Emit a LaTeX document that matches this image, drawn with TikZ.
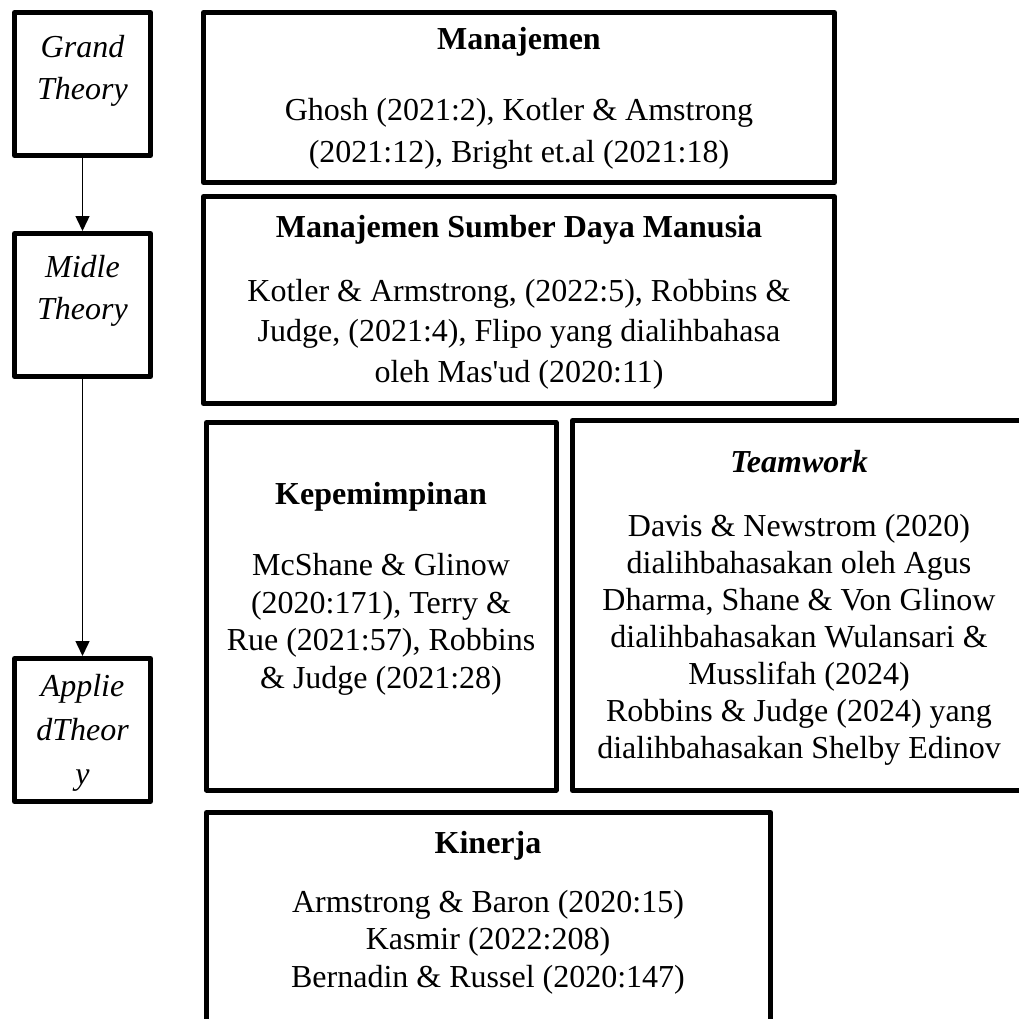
\documentclass[tikz,border=0pt]{standalone}
\usepackage{fontspec}
\setmainfont{Liberation Serif}[Ligatures=TeXOff]
\usetikzlibrary{arrows.meta}
\begin{document}
\begin{tikzpicture}[x=1pt,y=-1pt,
  box/.style={draw, line width=5pt, inner sep=0pt, line join=round},
  txt/.style={inner sep=0pt, font=\fontsize{32}{38}\selectfont, text height=21pt, text depth=6.4pt},
  ttl/.style={txt, font=\fontsize{32}{38}\selectfont\bfseries},
  itl/.style={txt, font=\fontsize{32}{38}\selectfont\itshape},
  arr/.style={-{Triangle[width=14pt,length=15pt]}, line width=1.5pt}]
\useasboundingbox (0,0) rectangle (1019,1019);

% left column boxes
\node[box, minimum width=136pt, minimum height=143pt] (G) at (82.5,84) {};
\node[box, minimum width=136pt, minimum height=143pt] (M) at (82.5,305) {};
\node[box, minimum width=136pt, minimum height=143pt] (A) at (82.5,730) {};
\node[itl] (g1) at (82.5,50) {Grand};
\node[itl] (g2) at (82.5,92) {Theory};
\node[itl] (m1) at (82.5,270) {Midle};
\node[itl] (m2) at (82.5,312) {Theory};
\node[itl] (a1) at (82.5,689) {Applie};
\node[itl] (a2) at (82.5,733) {dTheor};
\node[itl] (a3) at (82.5,777) {y};
\draw[arr] (G) -- (M);
\draw[arr] (M) -- (A);

% Manajemen
\node[box, minimum width=631pt, minimum height=170pt] (MJ) at (519,97.5) {};
\node[ttl] (mj0) at (519,42) {Manajemen};
\node[txt] (mj1) at (519,113) {Ghosh (2021:2), Kotler \& Amstrong};
\node[txt] (mj2) at (519,155) {(2021:12), Bright et.al (2021:18)};

% MSDM
\node[box, minimum width=631pt, minimum height=207pt] (SDM) at (519,300) {};
\node[ttl] (s0) at (519,230) {Manajemen Sumber Daya Manusia};
\node[txt] (s1) at (519,294) {Kotler \& Armstrong, (2022:5), Robbins \&};
\node[txt] (s2) at (519,334) {Judge, (2021:4), Flipo yang dialihbahasa};
\node[txt] (s3) at (519,375) {oleh Mas'ud (2020:11)};

% Kepemimpinan
\node[box, minimum width=349.5pt, minimum height=367.5pt] (KP) at (381.25,606.25) {};
\node[ttl] (k0) at (381,497) {Kepemimpinan};
\node[txt] (k1) at (381,568) {McShane \& Glinow};
\node[txt] (k2) at (381,606) {(2020:171), Terry \&};
\node[txt] (k3) at (381,643) {Rue (2021:57), Robbins};
\node[txt] (k4) at (381,681) {\& Judge (2021:28)};

% Teamwork
\node[box, minimum width=453.5pt, minimum height=370pt] (TW) at (799.25,605.5) {};
\node[ttl, font=\fontsize{32}{38}\selectfont\bfseries\itshape] (t0) at (799,465) {Teamwork};
\node[txt] (t1) at (799,529) {Davis \& Newstrom (2020)};
\node[txt] (t2) at (799,566) {dialihbahasakan oleh Agus};
\node[txt] (t3) at (799,603) {Dharma, Shane \& Von Glinow};
\node[txt] (t4) at (799,640) {dialihbahasakan Wulansari \&};
\node[txt] (t5) at (799,677) {Musslifah (2024)};
\node[txt] (t6) at (799,714) {Robbins \& Judge (2024) yang};
\node[txt] (t7) at (799,751) {dialihbahasakan Shelby Edinov};

% Kinerja
\node[box, minimum width=564pt, minimum height=227.5pt] (KN) at (488.5,926.25) {};
\node[ttl] (n0) at (488,846) {Kinerja};
\node[txt] (n1) at (488,905) {Armstrong \& Baron (2020:15)};
\node[txt] (n2) at (488,942) {Kasmir (2022:208)};
\node[txt] (n3) at (488,980) {Bernadin \& Russel (2020:147)};
\end{tikzpicture}
\end{document}
